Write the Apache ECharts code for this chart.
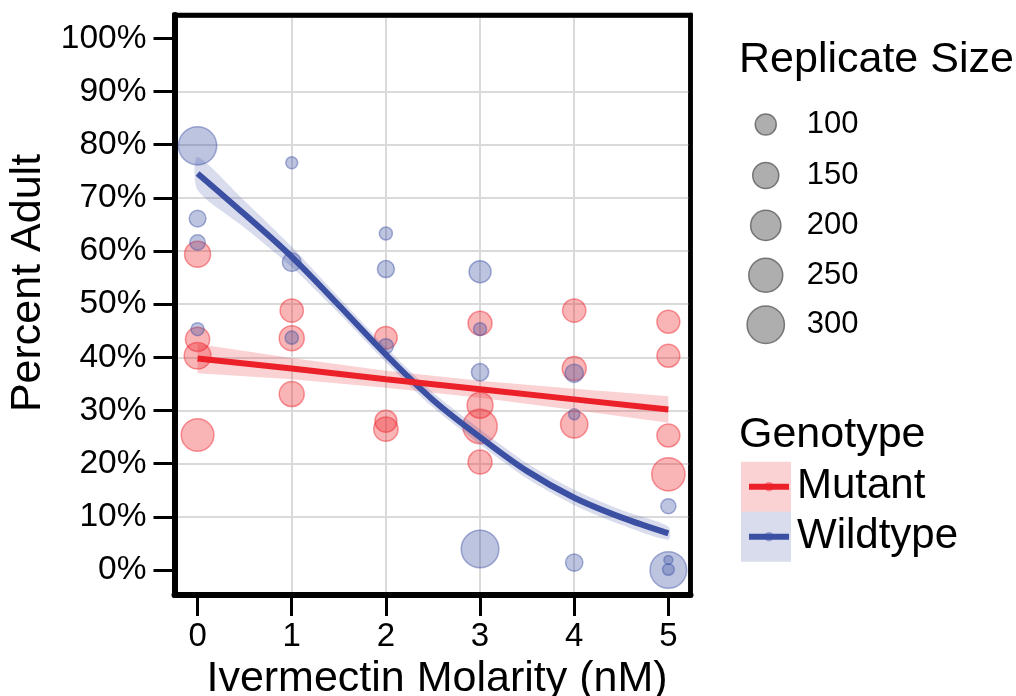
<!DOCTYPE html>
<html><head><meta charset="utf-8">
<script src="https://cdn.jsdelivr.net/npm/echarts@6/dist/echarts.min.js"></script>
<style>html,body{margin:0;padding:0;background:#fff}#c{width:1016px;height:696px}</style>
</head><body><div id="c"></div>
<script>
// ---------- data ----------
const xTicks = [0, 1, 2, 3, 4, 5];
const yTicks = [0, 10, 20, 30, 40, 50, 60, 70, 80, 90, 100];
const sizeLegendValues = [100, 150, 200, 250, 300];

const mutantX = [0, 0, 0, 0, 1, 1, 1, 2, 2, 2, 3, 3, 3, 3, 4, 4, 4, 5, 5, 5, 5];
const mutantY = [59.4, 43.4, 40.3, 25.4, 48.8, 43.6, 33.1, 43.7, 28.0, 26.5, 46.4, 31.0, 27.0, 20.3, 48.8, 37.9, 27.4, 46.7, 40.3, 25.3, 18.0];
const mutantN = [149, 131, 157, 232, 121, 139, 139, 115, 109, 131, 128, 149, 255, 128, 121, 128, 164, 118, 118, 118, 240];

const wildX = [0, 0, 0, 0, 1, 1, 1, 2, 2, 2, 3, 3, 3, 3, 4, 4, 4, 5, 5, 5, 5];
const wildY = [79.8, 66.1, 61.6, 45.3, 76.6, 57.9, 43.7, 63.3, 56.6, 42.1, 56.1, 45.3, 37.2, 3.95, 37.0, 29.3, 1.4, 12.0, 1.9, 0.0, 0.1];
const wildN = [316, 66, 57, 43, 37, 81, 44, 43, 68, 55, 109, 43, 70, 306, 78, 33, 70, 55, 24, 290, 36];

const mutantFitX = [0, 1, 2, 3, 4, 5];
const mutantFit = [39.8, 37.9, 35.9, 34.0, 32.1, 30.2];
const mutantLo = [37.0, 35.9, 34.3, 32.4, 30.1, 27.7];
const mutantHi = [42.5, 39.9, 37.5, 35.6, 34.1, 32.7];

const wildFitX = [0, 0.5, 1, 1.5, 2, 2.5, 3, 3.5, 4, 4.5, 5];
const wildFit = [74.6, 66.9, 58.9, 49.8, 40.5, 32.0, 25.0, 18.6, 13.6, 9.9, 6.9];
const wildLo = [71.5, 64.4, 57.0, 48.3, 39.1, 30.6, 23.6, 17.2, 12.2, 8.5, 5.7];
const wildHi = [77.7, 69.4, 60.8, 51.3, 41.9, 33.4, 26.5, 20.1, 15.1, 11.3, 8.2];

// ---------- styling ----------
const FONT = '"Liberation Sans", Arial, Helvetica, sans-serif';
const RED = '#ec2028';
const BLUE = '#3b4fa3';
const RED_PT = 'rgba(236,32,40,0.42)';
const RED_EDGE = 'rgba(236,32,40,0.55)';
const BLUE_PT = 'rgba(59,79,163,0.42)';
const BLUE_EDGE = 'rgba(59,79,163,0.55)';
const RED_BAND = 'rgba(236,32,40,0.2)';
const BLUE_BAND = 'rgba(59,79,163,0.2)';
const GRIDC = '#dadada';

const sizeToDiameter = n => Math.sqrt(Math.max(4.75 * n - 34, 25));
const zip3 = (a, b, c) => a.map((v, i) => [v, b[i], c[i]]);
const zip2 = (a, b) => a.map((v, i) => [v, b[i]]);
const baseAxisText = { color: '#000', fontFamily: FONT };

function bandSeries(name, xs, lo, hi, color, smooth) {
  return {
    type: 'custom', name: name, data: [0], z: 11, silent: true,
    itemStyle: { color: color },
    renderItem: (params, api) => {
      const up = xs.map((x, i) => api.coord([x, hi[i]]));
      const dn = xs.map((x, i) => api.coord([x, lo[i]])).reverse();
      return {
        type: 'polygon',
        shape: { points: up.concat(dn), smooth: smooth },
        style: { fill: color, stroke: null }
      };
    }
  };
}

const chart = echarts.init(document.getElementById('c'), null, { renderer: 'canvas' });

const LEG_CX = 765, LEG_CY0 = 124.5, LEG_DY = 49.5, LEG_TEXT_X = 806, LEG_FONT = 31;
const sizeLegends = sizeLegendValues.map((v, i) => {
  const d = sizeToDiameter(v);
  const cy = LEG_CY0 + LEG_DY * i;
  return {
    data: [{ name: String(v), icon: 'circle' }],
    left: LEG_CX - d / 2,
    top: cy - Math.max(d, LEG_FONT) / 2 + (i > 0 ? 1.5 : 0),
    itemWidth: d,
    itemHeight: d,
    padding: 0,
    selectedMode: false,
    textStyle: {
      fontSize: LEG_FONT, fontFamily: FONT, color: '#000',
      padding: [0, 0, 0, Math.max(0, LEG_TEXT_X - (LEG_CX + d / 2 + 5))]
    },
    itemStyle: { color: 'rgba(110,110,110,0.7)', borderColor: '#5e5e5e', borderWidth: 1.5 }
  };
});

const option = {
  animation: false,
  backgroundColor: '#fff',
  title: [
    { text: 'Replicate Size', left: 739, top: 39, padding: 0,
      textStyle: { fontSize: 43, fontWeight: 'normal', fontFamily: FONT, color: '#000' } },
    { text: 'Genotype', left: 739, top: 414, padding: 0,
      textStyle: { fontSize: 43, fontWeight: 'normal', fontFamily: FONT, color: '#000' } }
  ],
  legend: [
    ...sizeLegends,
    {
      data: [
        { name: 'Mutant CI', itemStyle: { color: RED_BAND } },
        { name: 'Wildtype CI', itemStyle: { color: BLUE_BAND } }
      ],
      icon: 'rect', orient: 'vertical', left: 741, top: 461.7,
      itemWidth: 50, itemHeight: 50, itemGap: 0, padding: 0,
      selectedMode: false, formatter: () => ''
    },
    {
      data: [
        { name: 'Mutant', itemStyle: { color: 'rgba(236,32,40,0.45)', borderWidth: 0 }, lineStyle: { color: RED, width: 6 } },
        { name: 'Wildtype', itemStyle: { color: 'rgba(59,79,163,0.45)', borderWidth: 0 }, lineStyle: { color: BLUE, width: 6 } }
      ],
      orient: 'vertical', left: 746, top: 461.7,
      itemWidth: 40, itemHeight: 12, itemGap: 0, padding: 0,
      selectedMode: false,
      lineStyle: { width: 6 },
      textStyle: { fontSize: 42, fontFamily: FONT, color: '#000', lineHeight: 40, padding: [0, 0, 10, 3] }
    }
  ],
  grid: {
    left: 174.5, right: 325.5, top: 15, bottom: 101,
    containLabel: false, outerBoundsMode: 'none',
    show: true, borderColor: '#000', borderWidth: 4.5, backgroundColor: 'transparent'
  },
  xAxis: [{
    type: 'value', min: -0.245, max: 5.235, splitNumber: 11, z: 5,
    axisLine: { show: true, onZero: false, lineStyle: { color: '#000', width: 6 } },
    axisTick: { show: true, customValues: xTicks, length: 21, lineStyle: { color: '#000', width: 3 } },
    axisLabel: { customValues: xTicks, fontSize: 33, margin: 25, ...baseAxisText },
    splitLine: { show: true, showMinLine: false, showMaxLine: false, lineStyle: { color: GRIDC, width: 2 } },
    name: 'Ivermectin Molarity (nM)', nameLocation: 'middle', nameGap: 52,
    nameTextStyle: { fontSize: 43, padding: [0, 0, 0, 9], ...baseAxisText }
  }, {
    type: 'value', position: 'top', min: -0.245, max: 5.235, z: 6,
    axisLine: { show: true, onZero: false, lineStyle: { color: '#000', width: 4.5 } },
    axisTick: { show: false }, axisLabel: { show: false }, splitLine: { show: false }
  }],
  yAxis: [{
    type: 'value', min: -4.7, max: 104.4, splitNumber: 22, z: 5,
    axisLine: { show: true, onZero: false, lineStyle: { color: '#000', width: 6 } },
    axisTick: { show: true, customValues: yTicks, length: 21, lineStyle: { color: '#000', width: 3 } },
    axisLabel: { customValues: yTicks, fontSize: 33.5, margin: 28, formatter: '{value}%', ...baseAxisText },
    splitLine: { show: true, showMinLine: false, showMaxLine: false, lineStyle: { color: GRIDC, width: 2 } },
    name: 'Percent Adult', nameLocation: 'middle', nameGap: 125, nameRotate: 90,
    nameTextStyle: { fontSize: 43, padding: [0, 0, 0, 44], ...baseAxisText }
  }, {
    type: 'value', position: 'right', min: -4.7, max: 104.4, z: 6,
    axisLine: { show: true, onZero: false, lineStyle: { color: '#000', width: 4.5 } },
    axisTick: { show: false }, axisLabel: { show: false }, splitLine: { show: false }
  }],
  series: [
    ...sizeLegendValues.map(v => ({
      type: 'scatter', name: String(v), data: [], symbol: 'circle',
      itemStyle: { color: 'rgba(110,110,110,0.7)', borderColor: '#5e5e5e', borderWidth: 1.5 }
    })),
    {
      type: 'scatter', name: 'Mutant pts', data: zip3(mutantX, mutantY, mutantN),
      symbolSize: v => sizeToDiameter(v[2]), z: 10, silent: true,
      itemStyle: { color: RED_PT, borderColor: RED_EDGE, borderWidth: 1.5 }
    },
    {
      type: 'scatter', name: 'Wildtype pts', data: zip3(wildX, wildY, wildN),
      symbolSize: v => sizeToDiameter(v[2]), z: 10, silent: true,
      itemStyle: { color: BLUE_PT, borderColor: BLUE_EDGE, borderWidth: 1.5 }
    },
    bandSeries('Mutant CI', mutantFitX, mutantLo, mutantHi, RED_BAND, 0),
    bandSeries('Wildtype CI', wildFitX, wildLo, wildHi, BLUE_BAND, 0.25),
    {
      type: 'line', name: 'Wildtype', data: zip2(wildFitX, wildFit), smooth: 0.35,
      symbol: 'circle', showSymbol: false, z: 12, silent: true,
      lineStyle: { color: BLUE, width: 6 }, itemStyle: { color: BLUE }
    },
    {
      type: 'line', name: 'Mutant', data: zip2(mutantFitX, mutantFit),
      symbol: 'circle', showSymbol: false, z: 13, silent: true,
      lineStyle: { color: RED, width: 6 }, itemStyle: { color: RED }
    }
  ]
};
chart.setOption(option);
</script>
</body></html>
